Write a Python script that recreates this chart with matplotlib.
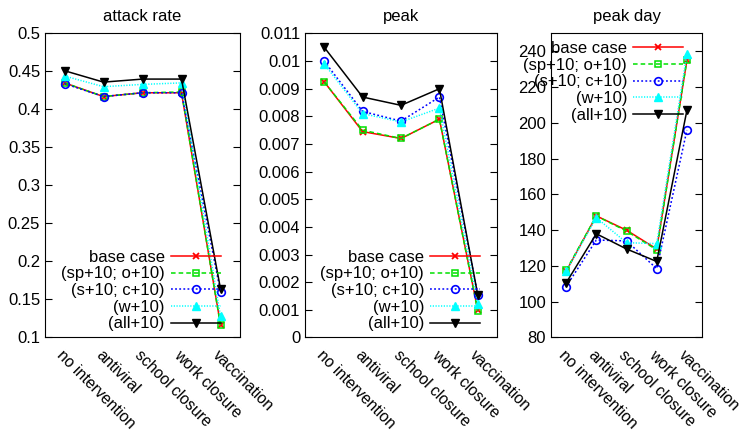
import matplotlib
matplotlib.use("Agg")
import matplotlib.pyplot as plt
from matplotlib.ticker import FuncFormatter

plt.rcParams['font.family'] = ['Liberation Sans', 'DejaVu Sans']
plt.rcParams['font.size'] = 12

# categories on the x axis
interventions = ['no intervention', 'antiviral', 'school closure', 'work closure', 'vaccination']
series_names = ['base case', '(sp+10; o+10)', '(s+10; c+10)', '(w+10)', '(all+10)']

# attack rate per series
attack_base = [0.435, 0.417, 0.422, 0.422, 0.117]
attack_spo = [0.435, 0.417, 0.422, 0.423, 0.116]
attack_sc = [0.434, 0.417, 0.422, 0.422, 0.160]
attack_w = [0.444, 0.430, 0.433, 0.435, 0.128]
attack_all = [0.451, 0.436, 0.440, 0.440, 0.164]

# peak per series
peak_base = [0.00925, 0.00745, 0.0072, 0.0079, 0.00098]
peak_spo = [0.00925, 0.0075, 0.0072, 0.0079, 0.00095]
peak_sc = [0.0100, 0.00818, 0.00783, 0.0087, 0.00155]
peak_w = [0.0099, 0.0081, 0.0078, 0.0083, 0.0012]
peak_all = [0.0105, 0.0087, 0.0084, 0.0090, 0.00152]

# peak day per series
day_base = [117, 148, 140, 129.5, 235]
day_spo = [117.5, 148, 139.5, 129, 235]
day_sc = [108.5, 134.5, 134, 118.5, 196]
day_w = [117, 147, 133, 132.5, 238.5]
day_all = [110.5, 138, 129.5, 122.5, 207]

styles = [
    dict(color='#ff0000', linestyle='-', marker='x', mfc='none', ms=5, mew=1.3),
    dict(color='#00e000', linestyle=(0, (3, 2)), marker='s', mfc='none', ms=5, mew=1.1),
    dict(color='#0000ff', linestyle=(0, (1.2, 1.5)), marker='o', mfc='none', ms=5.5, mew=1.2),
    dict(color='#00ffff', linestyle=(0, (0.8, 1)), marker='^', ms=5.5),
    dict(color='#000000', linestyle='-', marker='v', ms=5.5),
]

panels = [
    ('attack rate', [attack_base, attack_spo, attack_sc, attack_w, attack_all],
     (0.1, 0.5), [0.1, 0.15, 0.2, 0.25, 0.3, 0.35, 0.4, 0.45, 0.5],
     [0.06, 0.2188, 0.26, 0.7037], ('lower right', (0.90, 0.02))),
    ('peak', [peak_base, peak_spo, peak_sc, peak_w, peak_all],
     (0, 0.011), [i * 0.001 for i in range(12)],
     [0.4067, 0.2188, 0.256, 0.7037], ('lower right', (0.911, 0.02))),
    ('peak day', [day_base, day_spo, day_sc, day_w, day_all],
     (80, 250), [80, 100, 120, 140, 160, 180, 200, 220, 240],
     [0.7347, 0.2188, 0.2013, 0.7037], ('upper right', (0.874, 0.975))),
]

fig = plt.figure(figsize=(7.5, 4.32), dpi=100)
x = list(range(len(interventions)))

for title, data, ylim, yticks, rect, (loc, anchor) in panels:
    ax = fig.add_axes(rect)
    for vals, name, st in zip(data, series_names, styles):
        ax.plot(x, vals, label=name, lw=1.1, **st)
    ax.set_xlim(-0.5, 4.5)
    ax.set_ylim(*ylim)
    ax.set_yticks(yticks)
    ax.yaxis.set_major_formatter(FuncFormatter(lambda v, p: '%g' % round(v, 6)))
    ax.set_xticks(x)
    ax.set_xticklabels(interventions, rotation=-45, ha='left', rotation_mode='anchor',
                       fontsize=11.3)
    ax.tick_params(axis='both', direction='in', length=5, top=False, right=True)
    ax.tick_params(axis='x', length=0, pad=7)
    ax.set_title(title, fontsize=12, pad=9)
    leg = ax.legend(loc=loc, bbox_to_anchor=anchor, frameon=False,
                    markerfirst=False, handlelength=3.0, labelspacing=0.1,
                    borderpad=0, borderaxespad=0, handletextpad=0.35)
    leg.set_zorder(5)

fig.savefig('out.png', dpi=100)
